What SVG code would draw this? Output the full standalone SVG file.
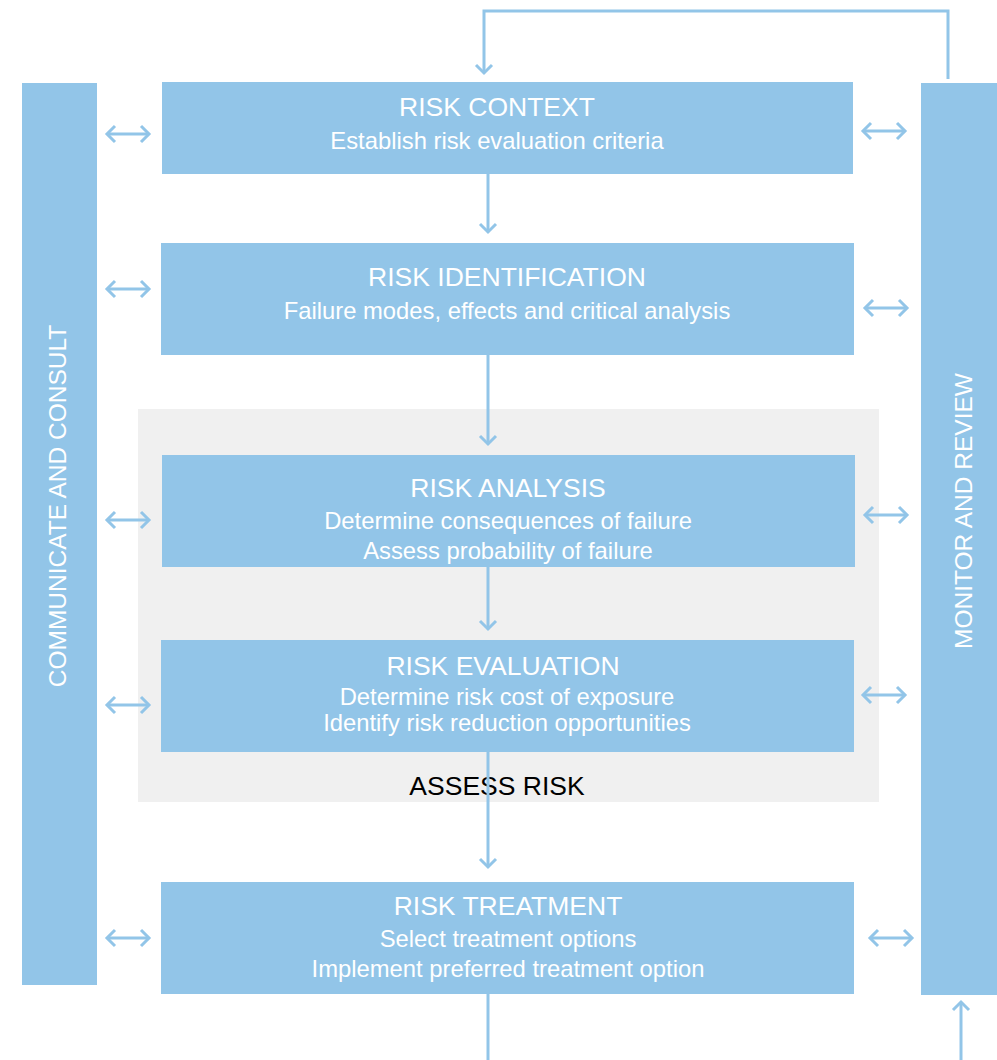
<svg xmlns="http://www.w3.org/2000/svg" width="997" height="1060" viewBox="0 0 997 1060">
<style>
.box{fill:#92c5e8}
.t{font-family:"Liberation Sans",Arial,sans-serif;fill:#fff;text-anchor:middle}
.h{font-size:26.5px}
.s{font-size:23.8px}
.v{font-size:24.5px}
.ln{stroke:#92c5e8;stroke-width:3;fill:none}
</style>
<defs>
<marker id="ah" viewBox="0 0 20 20" refX="10" refY="10" markerWidth="20" markerHeight="20" markerUnits="userSpaceOnUse" orient="auto-start-reverse">
<polyline points="2,2 10,10 2,18" fill="none" stroke="#92c5e8" stroke-width="3"/>
</marker>
</defs>
<rect x="138" y="409" width="741" height="393" fill="#f0f0f0"/>
<text x="497" y="795" font-family="Liberation Sans, Arial, sans-serif" font-size="26.5" fill="#000" text-anchor="middle">ASSESS RISK</text>
<g id="communicate">
<rect class="box" x="22" y="83" width="75" height="902"/>
<text class="t v" transform="translate(66,506) rotate(-90)">COMMUNICATE AND CONSULT</text>
</g>
<g id="monitor">
<rect class="box" x="921" y="83" width="76" height="912"/>
<text class="t v" transform="translate(972,511) rotate(-90)">MONITOR AND REVIEW</text>
</g>
<g id="context">
<rect class="box" x="162" y="82" width="691" height="92"/>
<text class="t h" x="497" y="116">RISK CONTEXT</text>
<text class="t s" x="497" y="149">Establish risk evaluation criteria</text>
</g>
<g id="identification">
<rect class="box" x="161" y="243" width="693" height="112"/>
<text class="t h" x="507" y="286">RISK IDENTIFICATION</text>
<text class="t s" x="507" y="319">Failure modes, effects and critical analysis</text>
</g>
<g id="analysis">
<rect class="box" x="162" y="455" width="693" height="112"/>
<text class="t h" x="508" y="497">RISK ANALYSIS</text>
<text class="t s" x="508" y="529">Determine consequences of failure</text>
<text class="t s" x="508" y="559">Assess probability of failure</text>
</g>
<g id="evaluation">
<rect class="box" x="161" y="640" width="693" height="112"/>
<text class="t h" x="503" y="675">RISK EVALUATION</text>
<text class="t s" x="507" y="705">Determine risk cost of exposure</text>
<text class="t s" x="507" y="731">Identify risk reduction opportunities</text>
</g>
<g id="treatment">
<rect class="box" x="161" y="882" width="693" height="112"/>
<text class="t h" x="508" y="915">RISK TREATMENT</text>
<text class="t s" x="508" y="947">Select treatment options</text>
<text class="t s" x="508" y="977">Implement preferred treatment option</text>
</g>
<g id="connectors">
<polyline class="ln" points="948,79 948,11 484,11 484,73" marker-end="url(#ah)"/>
<line class="ln" x1="488" y1="174" x2="488" y2="232" marker-end="url(#ah)"/>
<line class="ln" x1="488" y1="355" x2="488" y2="444" marker-end="url(#ah)"/>
<line class="ln" x1="488" y1="567" x2="488" y2="629" marker-end="url(#ah)"/>
<line class="ln" x1="488" y1="752" x2="488" y2="867" marker-end="url(#ah)"/>
<line class="ln" x1="488" y1="994" x2="488" y2="1060"/>
<line class="ln" x1="961" y1="1060" x2="961" y2="1002" marker-end="url(#ah)"/>
<line class="ln" x1="107" y1="134" x2="149" y2="134" marker-start="url(#ah)" marker-end="url(#ah)"/>
<line class="ln" x1="107" y1="289" x2="149" y2="289" marker-start="url(#ah)" marker-end="url(#ah)"/>
<line class="ln" x1="107" y1="520" x2="149" y2="520" marker-start="url(#ah)" marker-end="url(#ah)"/>
<line class="ln" x1="107" y1="705" x2="149" y2="705" marker-start="url(#ah)" marker-end="url(#ah)"/>
<line class="ln" x1="107" y1="938" x2="149" y2="938" marker-start="url(#ah)" marker-end="url(#ah)"/>
<line class="ln" x1="863" y1="131" x2="905" y2="131" marker-start="url(#ah)" marker-end="url(#ah)"/>
<line class="ln" x1="865" y1="308" x2="907" y2="308" marker-start="url(#ah)" marker-end="url(#ah)"/>
<line class="ln" x1="865" y1="515" x2="907" y2="515" marker-start="url(#ah)" marker-end="url(#ah)"/>
<line class="ln" x1="863" y1="695" x2="905" y2="695" marker-start="url(#ah)" marker-end="url(#ah)"/>
<line class="ln" x1="870" y1="938" x2="912" y2="938" marker-start="url(#ah)" marker-end="url(#ah)"/>
</g>
</svg>
